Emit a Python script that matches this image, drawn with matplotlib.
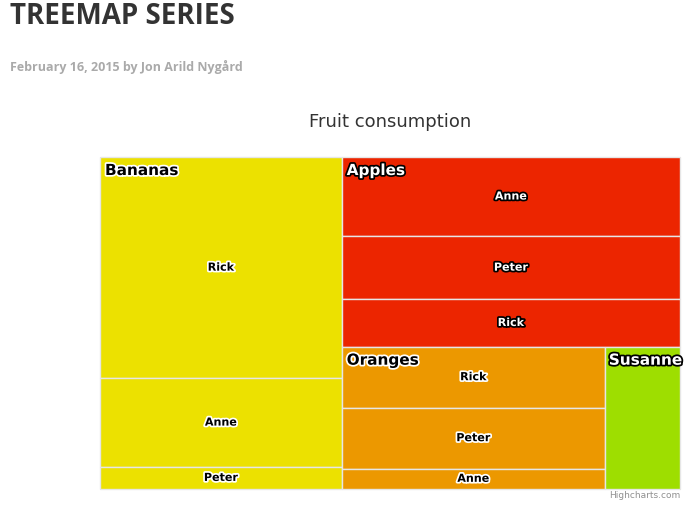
import matplotlib.pyplot as plt
import matplotlib.patheffects as pe
from matplotlib.patches import Rectangle

# data
groups = ["Bananas", "Apples", "Oranges", "Susanne"]
group_colors = ["#ECE100", "#EC2500", "#EC9800", "#9EDE00"]
banana_names = ["Rick", "Anne", "Peter"]
banana_vals = [10, 4, 1]
apple_names = ["Anne", "Peter", "Rick"]
apple_vals = [5, 4, 3]
orange_names = ["Rick", "Peter", "Anne"]
orange_vals = [3, 3, 1]
susanne_val = 2

W, H = 698, 508
fig = plt.figure(figsize=(W / 100, H / 100), dpi=100)
ax = fig.add_axes([0, 0, 1, 1])
ax.set_xlim(0, W)
ax.set_ylim(H, 0)
ax.axis("off")

x0, y0, x1, y1 = 100, 157, 680, 489
tb, ta, to = sum(banana_vals), sum(apple_vals), sum(orange_vals)
total = tb + ta + to + susanne_val

def outline(color):
    return [pe.withStroke(linewidth=2.5, foreground=color)]

def stack(names, vals, rx, ry, rw, rh, color, dark_text):
    s = sum(vals)
    y = ry
    for n, v in zip(names, vals):
        h = rh * v / s
        ax.add_patch(Rectangle((rx, y), rw, h, facecolor=color, edgecolor="#E6E6E6", lw=1))
        fc, ec = ("black", "white") if dark_text else ("white", "black")
        ax.text(rx + rw / 2, y + h / 2, n, ha="center", va="center", fontsize=8,
                fontweight="bold", color=fc, path_effects=outline(ec))
        y += h

def group_label(name, gx, gy, dark_text):
    fc, ec = ("black", "white") if dark_text else ("white", "black")
    ax.text(gx + 5, gy + 6, name, ha="left", va="top", fontsize=11, fontweight="bold",
            color=fc, path_effects=outline(ec))

# bananas column
bw = (x1 - x0) * tb / total
stack(banana_names, banana_vals, x0, y0, bw, y1 - y0, group_colors[0], True)
group_label(groups[0], x0, y0, True)

# apples on top of the remaining area
rx = x0 + bw
rw = x1 - rx
rest = ta + to + susanne_val
ah = (y1 - y0) * ta / rest
stack(apple_names, apple_vals, rx, y0, rw, ah, group_colors[1], False)
group_label(groups[1], rx, y0, False)

# oranges and susanne along the bottom
ow = rw * to / (to + susanne_val)
stack(orange_names, orange_vals, rx, y0 + ah, ow, y1 - y0 - ah, group_colors[2], True)
group_label(groups[2], rx, y0 + ah, True)
ax.add_patch(Rectangle((rx + ow, y0 + ah), rw - ow, y1 - y0 - ah,
                       facecolor=group_colors[3], edgecolor="#E6E6E6", lw=1))
group_label(groups[3], rx + ow - 1, y0 + ah, False)

# texts
ax.text(10, 17, "TREEMAP SERIES", fontsize=20, fontweight="bold", color="#333333",
        va="center", ha="left", family="Open Sans")
ax.text(10, 67, "February 16, 2015 by Jon Arild Nygård", fontsize=9, color="#AAAAAA",
        va="center", ha="left", fontweight="bold", family="Open Sans")
ax.text(390, 122, "Fruit consumption", fontsize=13, color="#333333", ha="center", va="center")
ax.text(680, 496, "Highcharts.com", fontsize=6.5, color="#909090", ha="right", va="center")

fig.savefig("out.png", dpi=100)
